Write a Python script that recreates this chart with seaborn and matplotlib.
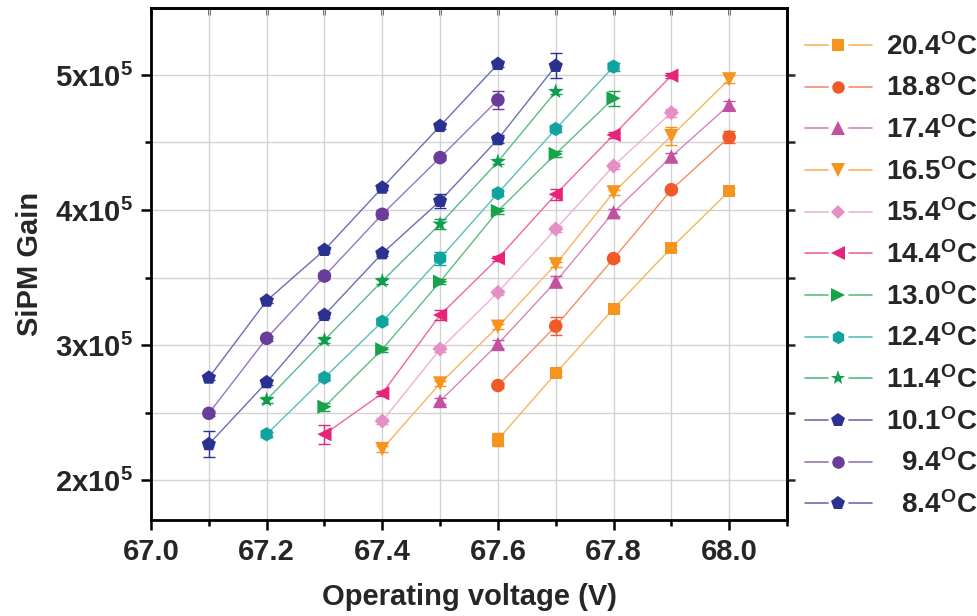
import numpy as np
import pandas as pd
import matplotlib
matplotlib.use("Agg")
import matplotlib.pyplot as plt
import matplotlib.colors as mcolors
from matplotlib.lines import Line2D
from matplotlib.ticker import MultipleLocator, FixedLocator, FixedFormatter
import seaborn as sns

# ---------------- data ----------------
temps = ["20.4", "18.8", "17.4", "16.5", "15.4", "14.4", "13.0", "12.4", "11.4", "10.1", "9.4", "8.4"]

volt_204 = [67.6, 67.7, 67.8, 67.9, 68.0]
gain_204 = [2.30e5, 2.79e5, 3.27e5, 3.72e5, 4.14e5]
err_204 = [0.045e5, 0.02e5, 0.02e5, 0.02e5, 0.02e5]

volt_188 = [67.6, 67.7, 67.8, 67.9, 68.0]
gain_188 = [2.70e5, 3.14e5, 3.64e5, 4.15e5, 4.54e5]
err_188 = [0.02e5, 0.064e5, 0.02e5, 0.02e5, 0.045e5]

volt_174 = [67.5, 67.6, 67.7, 67.8, 67.9, 68.0]
gain_174 = [2.585e5, 3.007e5, 3.469e5, 3.983e5, 4.395e5, 4.778e5]
err_174 = [0.02e5, 0.03e5, 0.04e5, 0.025e5, 0.03e5, 0.03e5]

volt_165 = [67.4, 67.5, 67.6, 67.7, 67.8, 67.9, 68.0]
gain_165 = [2.23e5, 2.716e5, 3.136e5, 3.598e5, 4.131e5, 4.548e5, 4.968e5]
err_165 = [0.02e5, 0.02e5, 0.02e5, 0.02e5, 0.02e5, 0.067e5, 0.03e5]

volt_154 = [67.4, 67.5, 67.6, 67.7, 67.8, 67.9]
gain_154 = [2.437e5, 2.97e5, 3.39e5, 3.859e5, 4.326e5, 4.721e5]
err_154 = [0.02e5, 0.02e5, 0.02e5, 0.02e5, 0.02e5, 0.03e5]

volt_144 = [67.3, 67.4, 67.5, 67.6, 67.7, 67.8, 67.9]
gain_144 = [2.339e5, 2.642e5, 3.222e5, 3.642e5, 4.116e5, 4.556e5, 4.995e5]
err_144 = [0.07e5, 0.02e5, 0.04e5, 0.02e5, 0.04e5, 0.02e5, 0.02e5]

volt_130 = [67.3, 67.4, 67.5, 67.6, 67.7, 67.8]
gain_130 = [2.543e5, 2.968e5, 3.469e5, 3.993e5, 4.415e5, 4.827e5]
err_130 = [0.03e5, 0.02e5, 0.02e5, 0.02e5, 0.02e5, 0.056e5]

volt_124 = [67.2, 67.3, 67.4, 67.5, 67.6, 67.7, 67.8]
gain_124 = [2.339e5, 2.758e5, 3.173e5, 3.642e5, 4.124e5, 4.60e5, 5.062e5]
err_124 = [0.02e5, 0.02e5, 0.02e5, 0.05e5, 0.02e5, 0.02e5, 0.03e5]

volt_114 = [67.2, 67.3, 67.4, 67.5, 67.6, 67.7]
gain_114 = [2.593e5, 3.037e5, 3.474e5, 3.896e5, 4.358e5, 4.877e5]
err_114 = [0.02e5, 0.02e5, 0.02e5, 0.037e5, 0.02e5, 0.02e5]

volt_101 = [67.1, 67.2, 67.3, 67.4, 67.5, 67.6, 67.7]
gain_101 = [2.265e5, 2.724e5, 3.222e5, 3.679e5, 4.067e5, 4.524e5, 5.067e5]
err_101 = [0.096e5, 0.02e5, 0.02e5, 0.02e5, 0.05e5, 0.03e5, 0.093e5]

volt_94 = [67.1, 67.2, 67.3, 67.4, 67.5, 67.6]
gain_94 = [2.494e5, 3.05e5, 3.511e5, 3.968e5, 4.388e5, 4.815e5]
err_94 = [0.02e5, 0.02e5, 0.02e5, 0.03e5, 0.02e5, 0.067e5]

volt_84 = [67.1, 67.2, 67.3, 67.4, 67.5, 67.6]
gain_84 = [2.758e5, 3.328e5, 3.704e5, 4.165e5, 4.622e5, 5.081e5]
err_84 = [0.02e5, 0.02e5, 0.02e5, 0.02e5, 0.02e5, 0.02e5]

x_ticks = [67.0, 67.2, 67.4, 67.6, 67.8, 68.0]
x_tick_labels = ["67.0", "67.2", "67.4", "67.6", "67.8", "68.0"]
y_ticks = [2e5, 3e5, 4e5, 5e5]
y_tick_labels = [r"2x10$^{\mathrm{5}}$", r"3x10$^{\mathrm{5}}$", r"4x10$^{\mathrm{5}}$", r"5x10$^{\mathrm{5}}$"]

series = {
    "20.4": (volt_204, gain_204, err_204),
    "18.8": (volt_188, gain_188, err_188),
    "17.4": (volt_174, gain_174, err_174),
    "16.5": (volt_165, gain_165, err_165),
    "15.4": (volt_154, gain_154, err_154),
    "14.4": (volt_144, gain_144, err_144),
    "13.0": (volt_130, gain_130, err_130),
    "12.4": (volt_124, gain_124, err_124),
    "11.4": (volt_114, gain_114, err_114),
    "10.1": (volt_101, gain_101, err_101),
    "9.4": (volt_94, gain_94, err_94),
    "8.4": (volt_84, gain_84, err_84),
}

# ---------------- styles ----------------
colors = {
    "20.4": "#F7941D", "18.8": "#F05A28", "17.4": "#C2519F", "16.5": "#F7941D",
    "15.4": "#E68FC4", "14.4": "#E8247A", "13.0": "#16A34A", "12.4": "#11A39E",
    "11.4": "#0E9F4E", "10.1": "#2B3190", "9.4": "#6A3D9A", "8.4": "#2B3190",
}
markers = {
    "20.4": "s", "18.8": "o", "17.4": "^", "16.5": "v", "15.4": "D", "14.4": "<",
    "13.0": ">", "12.4": "h", "11.4": "*", "10.1": "p", "9.4": "o", "8.4": "p",
}
sizes = {
    "20.4": 75, "18.8": 95, "17.4": 105, "16.5": 105, "15.4": 60, "14.4": 105,
    "13.0": 105, "12.4": 105, "11.4": 140, "10.1": 115, "9.4": 95, "8.4": 115,
}
leg_sizes = {
    "20.4": 8, "18.8": 9, "17.4": 9.5, "16.5": 9.5, "15.4": 7.5, "14.4": 9.5,
    "13.0": 9.5, "12.4": 9.5, "11.4": 11, "10.1": 10, "9.4": 9, "8.4": 10,
}


def lighten(c, f=0.3):
    r = np.array(mcolors.to_rgb(c))
    return tuple(r * (1 - f) + f)


line_colors = {k: lighten(v, 0.3) for k, v in colors.items()}

rows = []
for t in temps:
    v, g, e = series[t]
    for xi, yi, ei in zip(v, g, e):
        rows.append({"T": t, "V": xi, "G": yi, "E": ei})
df = pd.DataFrame(rows)

# ---------------- figure ----------------
sns.set_theme(style="white")
plt.rcParams["font.family"] = ["Liberation Sans", "DejaVu Sans"]
plt.rcParams["font.weight"] = "bold"
plt.rcParams["mathtext.fontset"] = "custom"
plt.rcParams["mathtext.rm"] = "Liberation Sans:bold"
plt.rcParams["mathtext.bf"] = "Liberation Sans:bold"
plt.rcParams["mathtext.it"] = "Liberation Sans:bold"

fig = plt.figure(figsize=(9.77, 6.16), dpi=100)
ax = fig.add_axes([151 / 977, 1 - 520 / 616, (787 - 151) / 977, (520 - 8) / 616])

sns.lineplot(data=df, x="V", y="G", hue="T", hue_order=temps, palette=line_colors,
             estimator=None, sort=True, lw=1.0, legend=False, ax=ax, zorder=2)

for t in temps:
    sub = df[df["T"] == t]
    ax.errorbar(sub["V"], sub["G"], yerr=sub["E"], fmt="none", ecolor=colors[t],
                elinewidth=1.0, capsize=4.5, capthick=1.0, zorder=3)

for t in temps:
    sub = df[df["T"] == t]
    sns.scatterplot(data=sub, x="V", y="G", color=colors[t], marker=markers[t],
                    s=sizes[t], edgecolor="none", linewidth=0, legend=False,
                    ax=ax, zorder=4)

ax.set_xlim(67.0, 68.1)
ax.set_ylim(1.704e5, 5.496e5)

ax.xaxis.set_major_locator(FixedLocator(x_ticks))
ax.xaxis.set_major_formatter(FixedFormatter(x_tick_labels))
ax.xaxis.set_minor_locator(MultipleLocator(0.1))
ax.yaxis.set_major_locator(FixedLocator(y_ticks))
ax.yaxis.set_major_formatter(FixedFormatter(y_tick_labels))
ax.yaxis.set_minor_locator(MultipleLocator(0.5e5))

ax.grid(True, which="both", color="#D3D3D3", lw=1.0)
ax.set_axisbelow(True)

for s in ax.spines.values():
    s.set_visible(True)
    s.set_linewidth(2.0)
    s.set_color("black")

ax.tick_params(axis="both", which="major", direction="out", length=7, width=1.8,
               labelsize=21, color="black", pad=6, bottom=True, left=True)
ax.tick_params(axis="both", which="minor", direction="out", length=4, width=1.8,
               color="black", bottom=True, left=True)
for lab in ax.get_xticklabels() + ax.get_yticklabels():
    lab.set_fontweight("bold")

# top and right tick marks
top = ax.secondary_xaxis("top")
top.xaxis.set_major_locator(FixedLocator(x_ticks))
top.xaxis.set_minor_locator(MultipleLocator(0.1))
top.tick_params(which="both", direction="in", length=5, width=1.8, labeltop=False)
right = ax.secondary_yaxis("right")
right.yaxis.set_major_locator(FixedLocator(y_ticks))
right.yaxis.set_minor_locator(MultipleLocator(0.5e5))
right.tick_params(which="both", direction="out", length=6, width=1.8, labelright=False)
for sa in (top, right):
    for s in sa.spines.values():
        s.set_linewidth(2.0)

ax.set_xlabel("Operating voltage (V)", fontsize=21, fontweight="bold", labelpad=12)
ax.set_ylabel("SiPM Gain", fontsize=21, fontweight="bold", labelpad=8)


# legend: line - gap - marker - gap - line
class LegendEntry:
    def __init__(self, key):
        self.key = key


class GapHandler:
    def legend_artist(self, legend, orig_handle, fontsize, handlebox):
        k = orig_handle.key
        x0, y0 = handlebox.xdescent, handlebox.ydescent
        w, h = handlebox.width, handlebox.height
        xa, ya = -x0, -y0
        yc = ya + h / 2.0
        tr = handlebox.get_transform()
        l1 = Line2D([xa, xa + w * 0.34], [yc, yc], color=line_colors[k], lw=1.2, transform=tr)
        l2 = Line2D([xa + w * 0.66, xa + w], [yc, yc], color=line_colors[k], lw=1.2, transform=tr)
        mk = Line2D([xa + w / 2.0], [yc], ls="none", marker=markers[k], markersize=leg_sizes[k],
                    markerfacecolor=colors[k], markeredgewidth=0, transform=tr)
        for a in (l1, l2, mk):
            handlebox.add_artist(a)
        return mk


handles = []
labels = []
for t in temps:
    handles.append(LegendEntry(t))
    lab = t if len(t) == 4 else "  " + t
    labels.append(lab + r"$^{\mathrm{O}}$C")
leg = fig.legend(handles, labels, loc="center left", bbox_to_anchor=(805 / 977, 1 - 276 / 616),
                 frameon=False, fontsize=20, handlelength=2.4, handletextpad=0.5,
                 labelspacing=0.5, borderpad=0, borderaxespad=0,
                 handler_map={LegendEntry: GapHandler()})
for txt in leg.get_texts():
    txt.set_fontweight("bold")

fig.savefig("out.png", dpi=100)
